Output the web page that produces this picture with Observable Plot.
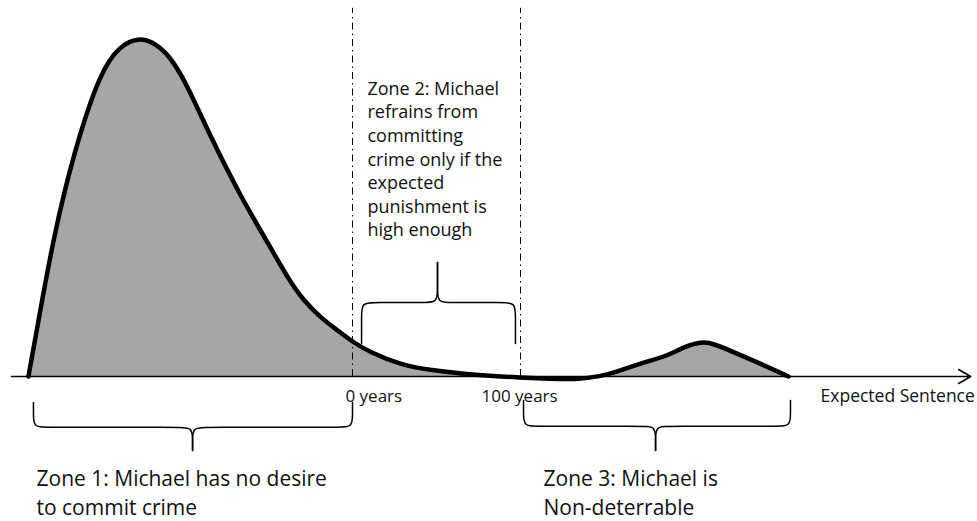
<!DOCTYPE html>
<html><head><meta charset="utf-8">
<script src="https://cdn.jsdelivr.net/npm/d3@7"></script>
<script src="https://cdn.jsdelivr.net/npm/@observablehq/plot@0.6"></script>
<style>body{margin:0;background:#fff} svg{display:block}</style>
</head><body><div id="chart"></div>
<script>
// Expected sentence (years, 0 and 100 are the zone-2 bounds) and relative density
const sentence = [-192.9,-186.9,-178.0,-166.1,-150.0,-138.1,-128.0,-117.3,-106.5,-96.4,-86.3,-66.7,-48.8,-38.7,-29.2,-19.0,-8.9,0,10.7,28.6,46.4,76.2,100,117.9,132.7,147.6,157.7,167.3,177.4,187.5,197.0,203.0,208.9,214.9,226.8,242.9,259.5];
const density  = [0,16.5,41.0,65.8,90.3,97.6,100,98.5,93.2,83.8,72.6,53.1,38.1,29.2,22.4,17.4,13.6,10.2,7.1,3.5,1.8,0.3,-0.3,-0.7,-0.9,0,1.5,3.2,4.7,6.2,8.6,9.6,10.2,9.7,7.2,3.8,0];

const boundaryValues = [0, 100];
const tickLabels = ["0 years", "100 years"];
const tickLabelX = [-4.2, 76.8];
const axisLabel = "Expected Sentence";

const zoneTexts = [
  "Zone 1: Michael has no desire\nto commit crime",
  "Zone 2: Michael\nrefrains from\ncommitting\ncrime only if the\nexpected\npunishment is\nhigh enough",
  "Zone 3: Michael is\nNon-deterrable"
];
const zoneTextX = [-188.1, 8.9, 113.7];
const zoneTextY = [-26.0, 88.0, -26.0];
const zoneFontSize = [21, 18, 21];
const zoneLineHeight = [1.4, 1.31, 1.4];

// braces: [x1, x2, yEnd, yHorizontal, xTip, yTip]
const braces = [
  [-189.9, 0, -7.7, -15.0, -95.2, -21.8],
  [5.4, 97.0, 9.7, 21.8, 50.6, 33.6],
  [101.8, 260.7, -7.1, -14.7, 180.4, -21.8]
];

const curve = sentence.map((x, i) => ({x, y: density[i]}));

const bracePts = [];
braces.forEach((b, bi) => {
  const [x1, x2, yEnd, yH, xTip, yTip] = b;
  const dx = 8, sEnd = Math.sign(yEnd - yH) * 4, sTip = Math.sign(yTip - yH) * 4;
  [[x1, 1], [x2, -1]].forEach(([xe, dir], h) => {
    const pts = [[xe, yEnd], [xe, yH + sEnd], [xe, yH], [xe + dir * dx, yH],
                 [xTip - dir * dx, yH], [xTip, yH], [xTip, yH + sTip], [xTip, yTip]];
    pts.forEach(([x, y]) => bracePts.push({x, y, g: bi * 2 + h}));
  });
});

const zones = zoneTexts.map((t, i) => ({t, x: zoneTextX[i], y: zoneTextY[i]}));
const font = "'Open Sans', sans-serif";

const marks = [
  Plot.areaY(curve, {x: "x", y1: 0, y2: d => Math.max(0, d.y), curve: "basis", fill: "#a6a6a6"}),
  Plot.arrow([{x1: -203, x2: 368, y: 0}], {x1: "x1", x2: "x2", y1: "y", y2: "y", stroke: "black", strokeWidth: 1.5, headLength: 14, headAngle: 60}),
  Plot.ruleX(boundaryValues, {x: d => d, y1: 0, y2: 108.6, stroke: "black", strokeWidth: 1, strokeDasharray: "7,4,1.5,4"}),
  Plot.line(curve, {x: "x", y: "y", curve: "basis", stroke: "black", strokeWidth: 4.5}),
  Plot.line(bracePts, {x: "x", y: "y", z: "g", curve: "basis", stroke: "black", strokeWidth: 1.5}),
  Plot.text(tickLabels, {x: (d, i) => tickLabelX[i], y: -5.8, text: d => d, textAnchor: "start", fontSize: 17, fill: "#111"}),
  Plot.text([axisLabel], {x: 278.6, y: -5.8, text: d => d, textAnchor: "start", fontSize: 17.5, fill: "#111"}),
];
zones.forEach((z, i) => {
  marks.push(Plot.text([z], {x: "x", y: "y", text: "t", textAnchor: "start", lineAnchor: "top",
    fontSize: zoneFontSize[i], lineHeight: zoneLineHeight[i], fill: "#111"}));
});

const chart = Plot.plot({
  width: 977, height: 521,
  margin: 0,
  x: {domain: [-209.52, 372.02], axis: null},
  y: {domain: [-42.77, 110.91], axis: null},
  style: {fontFamily: font, background: "#fff"},
  marks
});
document.getElementById("chart").appendChild(chart);
</script>
</body></html>
